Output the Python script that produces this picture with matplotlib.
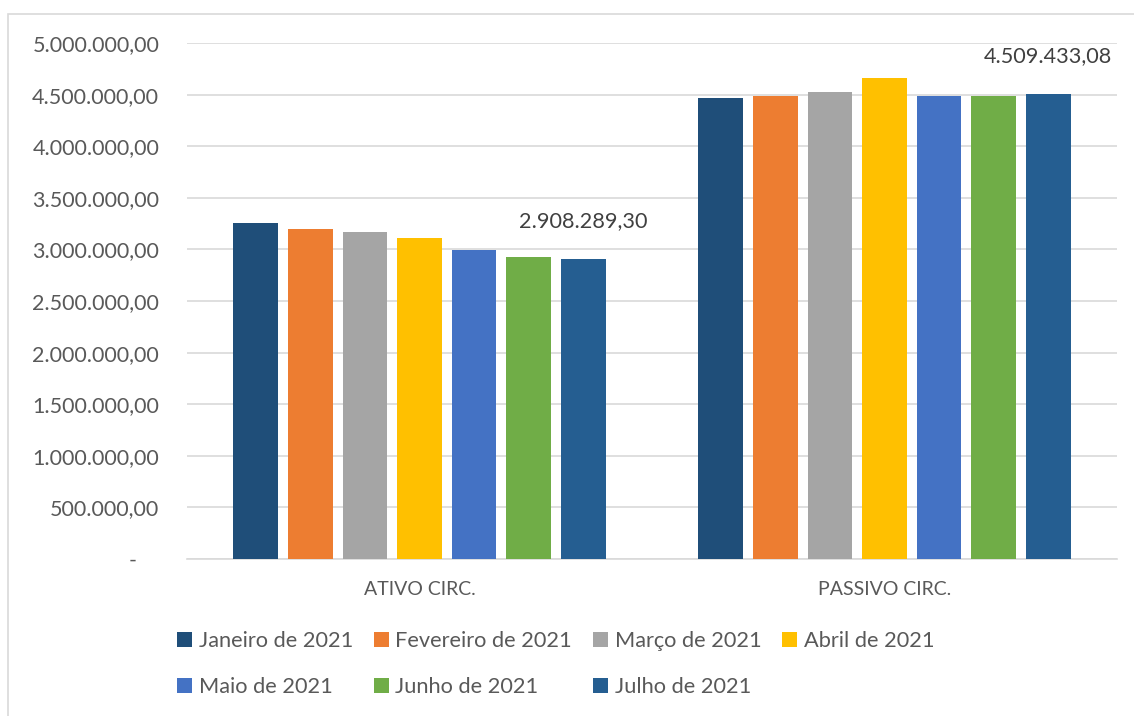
import matplotlib
matplotlib.use("Agg")
import matplotlib.pyplot as plt
import numpy as np
from matplotlib.ticker import FuncFormatter
from matplotlib.patches import Rectangle

categories = ["ATIVO CIRC.", "PASSIVO CIRC."]
months = [
    "Janeiro de 2021",
    "Fevereiro de 2021",
    "Março de 2021",
    "Abril de 2021",
    "Maio de 2021",
    "Junho de 2021",
    "Julho de 2021",
]
ativo = [3255000, 3197000, 3168000, 3110000, 2994000, 2926000, 2908289.30]
passivo = [4467000, 4489000, 4525000, 4663000, 4489000, 4489000, 4509433.08]
colors = ["#1F4E79", "#ED7D31", "#A5A5A5", "#FFC000", "#4472C4", "#70AD47", "#255E91"]

plt.rcParams["font.family"] = ["Lato", "DejaVu Sans"]
text_color = "#595959"


def br_fmt(v, pos=None):
    if v == 0:
        return "-    "
    s = f"{v:,.2f}"
    return s.replace(",", "X").replace(".", ",").replace("X", ".")


fig = plt.figure(figsize=(11.34, 7.16), dpi=100)
ax = fig.add_axes([187 / 1134, 157 / 716, 930 / 1134, 516 / 716])

# outer chart border
fig.patches.append(Rectangle((8 / 1134, -0.01), 1.0, (716 - 14) / 716 + 0.01,
                             transform=fig.transFigure, fill=False,
                             edgecolor="#D9D9D9", linewidth=1.2))

n = len(months)
x = np.arange(len(categories))
pitch = 0.1175
width = 0.096
values = [ativo, passivo]
handles = []
for j in range(n):
    pos = x + (j - (n - 1) / 2) * pitch
    vals = [values[0][j], values[1][j]]
    b = ax.bar(pos, vals, width, color=colors[j], label=months[j], zorder=3)
    handles.append(b)
    if j == n - 1:
        for p, v in zip(pos, vals):
            ax.annotate(br_fmt(v), (p, v), xytext=(0, 27), textcoords="offset points",
                        ha="center", va="center", fontsize=15.6, color="#404040")

ax.set_xlim(-0.5, 1.5)
ax.set_ylim(0, 5000000)
ax.set_yticks(np.arange(0, 5000001, 500000))
ax.yaxis.set_major_formatter(FuncFormatter(br_fmt))
ax.set_xticks(x)
ax.set_xticklabels(categories)
ax.grid(axis="y", color="#D9D9D9", linewidth=1.2, zorder=0)
ax.tick_params(axis="y", length=0, pad=20, labelsize=15.5, labelcolor=text_color)
ax.tick_params(axis="x", length=0, pad=16, labelsize=14, labelcolor=text_color)
for s in ["top", "right", "left"]:
    ax.spines[s].set_visible(False)
ax.spines["bottom"].set_color("#D9D9D9")
ax.spines["bottom"].set_linewidth(1.2)

# legend filled row by row (matplotlib fills columns first)
order = [0, 4, 1, 5, 2, 6, 3]
fig.legend([handles[i] for i in order], [months[i] for i in order],
           loc="upper left", bbox_to_anchor=(166 / 1134, 1 - 620 / 716), ncol=4,
           frameon=False, fontsize=15.7, labelcolor=text_color, handlelength=0.7,
           handleheight=0.7, handletextpad=0.3, columnspacing=0.95, labelspacing=1.2,
           borderpad=0)

fig.savefig("out.png", dpi=100)
